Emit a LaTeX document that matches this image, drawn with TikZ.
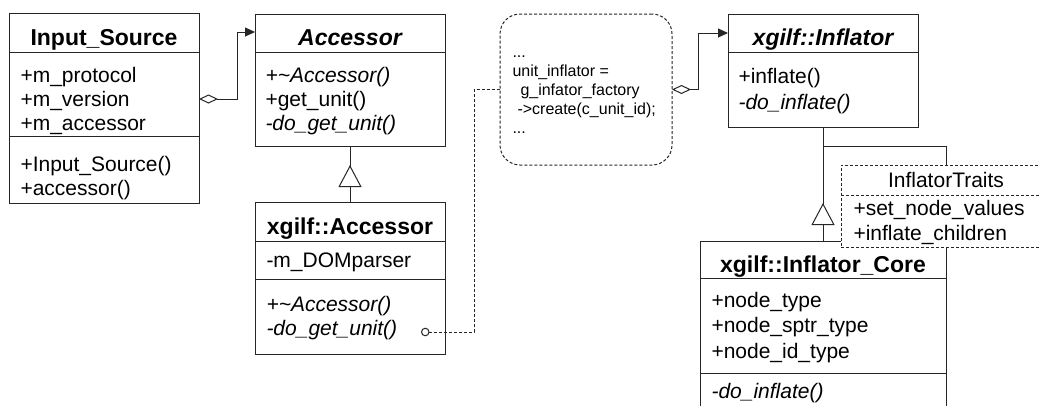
\documentclass[tikz,border=0pt]{standalone}
\usepackage{fontspec}
\setmainfont{Liberation Sans}
\usetikzlibrary{arrows.meta,decorations.markings}
\begin{document}
\begin{tikzpicture}[x=1pt,y=-1pt,line width=1pt,
 cls/.style={draw=black!85, fill=white, anchor=north west, inner sep=0pt, outer sep=0pt},
 lbl/.style={anchor=base west, inner sep=0pt, font=\fontsize{21}{24}\selectfont},
 ttl/.style={anchor=base, inner sep=0pt, font=\fontsize{23}{27}\selectfont\bfseries},
 notetxt/.style={anchor=base west, inner sep=0pt, font=\fontsize{16}{19}\selectfont},
 dsh/.style={dash pattern=on 3pt off 2pt},
 agg/.style={draw=black!85, {Diamond[open,fill=white,length=19pt,width=9pt]}-{Triangle[length=10pt,width=9pt]}},
 inh/.style={draw=black!85, postaction={decorate}, decoration={markings, mark=at position #1 with {\arrow{Triangle[length=22pt,width=23pt,fill=white]}}}},
 dep/.style={draw=black!85, dsh, {Circle[open,fill=white,length=8.5pt]}-}
]
\useasboundingbox (0,0) rectangle (1040,405);
\fill[white] (0,0) rectangle (1040,405);
\clip (0,0) rectangle (1040,405);

% Input_Source
\node[cls, minimum width=190pt, minimum height=190pt] (IS) at (9,13) {};
\draw[black!85] (IS.west |- 0,52) -- (IS.east |- 0,52);
\draw[black!85] (IS.west |- 0,136) -- (IS.east |- 0,136);
\node[ttl] (IS-t) at (104,45) {Input\_Source};
\node[lbl] (IS-a1) at (20,82) {+m\_protocol};
\node[lbl] (IS-a2) at (20,106) {+m\_version};
\node[lbl] (IS-a3) at (20,130) {+m\_accessor};
\node[lbl] (IS-m1) at (20,171) {+Input\_Source()};
\node[lbl] (IS-m2) at (20,195) {+accessor()};

% Accessor
\node[cls, minimum width=190pt, minimum height=132pt] (ACC) at (255,14) {};
\draw[black!85] (ACC.west |- 0,52) -- (ACC.east |- 0,52);
\node[ttl, font=\fontsize{23}{27}\selectfont\bfseries\itshape] (ACC-t) at (350,45) {Accessor};
\node[lbl, font=\fontsize{21}{24}\selectfont\itshape] (ACC-m1) at (265,82) {+\textasciitilde Accessor()};
\node[lbl] (ACC-m2) at (265,106) {+get\_unit()};
\node[lbl, font=\fontsize{21}{24}\selectfont\itshape] (ACC-m3) at (265,130) {-do\_get\_unit()};

% xgilf::Accessor
\node[cls, minimum width=190pt, minimum height=152pt] (XACC) at (255,202) {};
\draw[black!85] (XACC.west |- 0,241) -- (XACC.east |- 0,241);
\draw[black!85] (XACC.west |- 0,279) -- (XACC.east |- 0,279);
\node[ttl] (XACC-t) at (350,234) {xgilf::Accessor};
\node[lbl] (XACC-a1) at (266,267) {-m\_DOMparser};
\node[lbl, font=\fontsize{21}{24}\selectfont\itshape] (XACC-m1) at (266,311) {+\textasciitilde Accessor()};
\node[lbl, font=\fontsize{21}{24}\selectfont\itshape] (XACC-m2) at (266,335) {-do\_get\_unit()};

% note
\node[cls, dsh, rounded corners=20pt, minimum width=172pt, minimum height=151pt] (NOTE) at (500,14) {};
\node[notetxt] (N1) at (512,57) {...};
\node[notetxt] (N2) at (512,76) {unit\_inflator =};
\node[notetxt] (N3) at (520,95) {g\_infator\_factory};
\node[notetxt] (N4) at (517,114) {->create(c\_unit\_id);};
\node[notetxt] (N5) at (512,133) {...};

% xgilf::Inflator
\node[cls, minimum width=190pt, minimum height=113pt] (INF) at (728,14) {};
\draw[black!85] (INF.west |- 0,52) -- (INF.east |- 0,52);
\node[ttl, font=\fontsize{23}{27}\selectfont\bfseries\itshape] (INF-t) at (823,45) {xgilf::Inflator};
\node[lbl] (INF-m1) at (738,83) {+inflate()};
\node[lbl, font=\fontsize{21}{24}\selectfont\itshape] (INF-m2) at (738,109) {-do\_inflate()};

% xgilf::Inflator_Core
\node[cls, minimum width=246pt, minimum height=185pt] (CORE) at (700,241) {};
\draw[black!85] (CORE.west |- 0,278) -- (CORE.east |- 0,278);
\draw[black!85] (CORE.west |- 0,373) -- (CORE.east |- 0,373);
\node[ttl] (CORE-t) at (823,272) {xgilf::Inflator\_Core};
\node[lbl] (CORE-a1) at (711,307) {+node\_type};
\node[lbl] (CORE-a2) at (711,332) {+node\_sptr\_type};
\node[lbl] (CORE-a3) at (711,358) {+node\_id\_type};
\node[lbl, font=\fontsize{21}{24}\selectfont\itshape] (CORE-m1) at (711,398) {-do\_inflate()};

% InflatorTraits
\node[cls, dsh, minimum width=210pt, minimum height=82pt] (TR) at (841,165) {};
\draw[black!85, dsh] (TR.west |- 0,195) -- (TR.east |- 0,195);
\node[anchor=base, inner sep=0pt, font=\fontsize{21}{24}\selectfont] (TR-t) at (946,187) {InflatorTraits};
\node[lbl] (TR-m1) at (853,215) {+set\_node\_values};
\node[lbl] (TR-m2) at (853,240) {+inflate\_children};

% connectors
\draw[agg] (IS.east |- 0,99) -- ++(38,0) |- (ACC.west |- 0,32);
\draw[inh=37pt] (XACC.north) -- (ACC.south);
\coordinate (dep) at (421,332);
\draw[dep] (dep) -- ++(53,0) |- (NOTE.west);
\draw[agg] (NOTE.east) -- ++(26,0) |- (INF.west |- 0,33);
\draw[black!85] (INF.south |- 0,146) -| (TR.north);
\draw[inh=38pt] (CORE.north) -- (INF.south);
\end{tikzpicture}
\end{document}
